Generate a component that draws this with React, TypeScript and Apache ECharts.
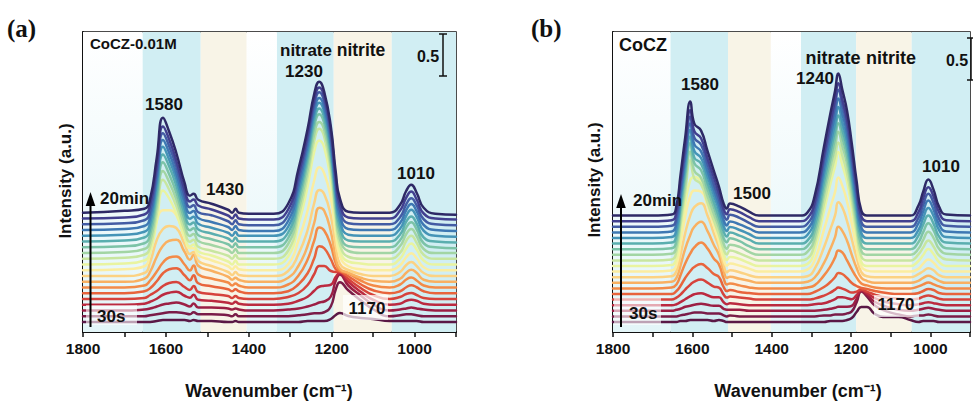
import React, { useEffect, useRef } from "react";
import * as echarts from "echarts";

const FONT = 'Arial, "Liberation Sans", Helvetica, sans-serif';

// Intensity unit: 1/84 a.u. (the "0.5" scale bar = 42 units)
const SCALE_BAR = 42;

// ---------- Panel (a): CoCZ-0.01M ----------
const WAVENUMBERS_A = [1800, 1700, 1652, 1638, 1622, 1607, 1592, 1575, 1555, 1542, 1533, 1522, 1490, 1450, 1440, 1432, 1424, 1400, 1340, 1305, 1280, 1258, 1242, 1230, 1218, 1202, 1190, 1180, 1160, 1130, 1100, 1060, 1035, 1020, 1008, 995, 978, 950, 900];
// rows listed from 20 min (top) down to 30 s (bottom), intensity above each trace's own baseline
const CURVES_A = [
  [0, 2, 4, 14, 55, 95, 81, 60, 30, 17, 19, 13, 9, 3, 0, 4, 0, -1, -1, 9, 44, 84, 119, 131, 121, 86, 40, 14, 1, 0, 0, 0, 8, 22, 28, 20, 5, -1, -2],
  [0, 1, 4, 14, 53, 92, 79, 58, 29, 17, 19, 13, 9, 3, 0, 4, 0, -1, -1, 9, 44, 84, 119, 131, 122, 87, 40, 14, 1, 0, 0, 0, 8, 21, 27, 19, 5, 0, -1],
  [0, 1, 4, 13, 53, 91, 78, 58, 29, 17, 19, 12, 9, 3, 0, 4, 0, -1, -1, 9, 44, 85, 120, 132, 123, 88, 41, 14, 1, 0, 0, 0, 7, 20, 26, 19, 5, 0, -1],
  [0, 1, 4, 13, 52, 90, 77, 57, 29, 17, 19, 12, 8, 3, 0, 4, 0, -1, -1, 9, 44, 85, 120, 132, 123, 88, 41, 14, 1, 0, 0, 0, 7, 20, 26, 19, 5, 0, -1],
  [0, 1, 4, 13, 52, 89, 76, 57, 28, 17, 19, 12, 8, 3, 0, 4, 0, 0, 0, 9, 44, 85, 121, 133, 124, 89, 41, 14, 1, 0, 0, 0, 7, 20, 26, 19, 5, 0, -1],
  [0, 1, 4, 13, 50, 87, 75, 56, 28, 17, 19, 12, 8, 3, 0, 4, 0, 0, 0, 9, 44, 85, 121, 133, 124, 89, 41, 14, 1, 0, 0, 0, 7, 20, 25, 18, 4, 0, -1],
  [0, 1, 4, 13, 49, 85, 73, 55, 28, 17, 19, 12, 8, 3, 0, 4, 0, 0, 0, 9, 44, 85, 121, 133, 124, 89, 41, 14, 1, 0, 0, 0, 7, 20, 25, 18, 4, 0, -1],
  [0, 1, 4, 12, 47, 82, 71, 54, 28, 17, 19, 12, 8, 3, 0, 4, 0, 0, 0, 9, 43, 83, 119, 131, 123, 88, 40, 14, 2, 0, 0, 0, 7, 19, 24, 17, 4, 0, 0],
  [0, 1, 4, 12, 45, 79, 69, 53, 28, 17, 19, 12, 8, 3, 0, 4, 0, 0, 0, 8, 42, 82, 118, 130, 122, 87, 40, 14, 2, 0, 0, 0, 6, 18, 23, 16, 4, 0, 0],
  [0, 1, 4, 12, 43, 74, 66, 51, 28, 18, 20, 13, 9, 3, 0, 4, 0, 0, 0, 8, 40, 78, 113, 124, 117, 83, 39, 14, 3, 1, 0, 0, 6, 16, 21, 15, 4, 0, 0],
  [0, 1, 4, 20, 50, 60, 60, 55, 33, 22, 22, 15, 10, 4, 1, 4, 1, 0, 0, 6, 30, 60, 90, 103, 97, 72, 36, 14, 4, 1, 0, 0, 5, 13, 17, 12, 3, 0, 0],
  [0, 0, 3, 14, 36, 47, 50, 48, 32, 22, 24, 15, 10, 4, 1, 4, 1, 0, 0, 5, 22, 46, 73, 86, 82, 60, 30, 12, 6, 2, 0, 0, 4, 11, 14, 10, 3, 0, 0],
  [0, 0, 3, 10, 25, 36, 41, 42, 30, 22, 27, 16, 11, 5, 2, 4, 2, 0, 0, 4, 16, 36, 59, 74, 71, 50, 24, 13, 9, 4, 1, 0, 3, 9, 12, 9, 2, 0, 0],
  [0, 0, 2, 7, 16, 25, 30, 31, 23, 17, 22, 13, 9, 5, 2, 4, 2, 0, 0, 3, 12, 28, 47, 60, 57, 42, 24, 17, 14, 7, 2, 0, 3, 8, 10, 7, 2, 0, 0],
  [0, 0, 2, 5, 12, 20, 24, 25, 18, 13, 18, 10, 7, 4, 2, 4, 2, 0, 0, 2, 9, 20, 35, 47, 45, 34, 24, 22, 17, 9, 3, 0, 2, 6, 8, 6, 2, 0, 0],
  [0, 0, 1, 4, 8, 13, 16, 17, 12, 9, 13, 7, 5, 3, 1, 3, 1, 0, 0, 2, 6, 14, 25, 33, 33, 28, 27, 27, 20, 11, 4, 0, 2, 5, 6, 4, 1, 0, 0],
  [0, 0, 1, 3, 6, 10, 12, 13, 9, 7, 10, 5, 4, 2, 1, 3, 1, 0, 0, 1, 4, 8, 14, 18, 19, 20, 28, 32, 23, 13, 5, 0, 1, 4, 5, 4, 1, 0, 0],
  [0, 0, 1, 2, 4, 6, 7, 8, 6, 4, 7, 3, 3, 2, 1, 2, 1, 0, 0, 1, 2, 4, 6, 8, 9, 14, 30, 36, 25, 15, 6, 0, 1, 2, 3, 2, 1, 0, 0],
  [0, 0, 0, 1, 2, 3, 4, 4, 3, 2, 4, 2, 2, 1, 0, 2, 0, 0, 0, 0, 1, 2, 3, 3, 4, 10, 27, 34, 26, 16, 7, 0, 1, 2, 2, 1, 0, 0, 0],
  [0, 0, 0, 0, 1, 2, 2, 2, 2, 1, 2, 1, 1, 0, 0, 1, 0, 0, 0, 0, 0, 1, 1, 1, 1, 3, 7, 9, 6, 4, 3, 1, 1, 1, 1, 1, 0, 0, 0],
];
// background bands [from, to, kind] kind: 0 clear, 1 cyan, 2 cream
const BANDS_A = [[1800, 1656, 0], [1656, 1516, 1], [1516, 1405, 2], [1405, 1332, 0], [1332, 1195, 1], [1195, 1055, 2], [1055, 900, 1]];

// ---------- Panel (b): CoCZ ----------
const WAVENUMBERS_B = [1800, 1700, 1652, 1640, 1630, 1618, 1605, 1595, 1578, 1562, 1546, 1533, 1521, 1513, 1505, 1481, 1457, 1432, 1330, 1310, 1292, 1268, 1252, 1240, 1232, 1222, 1210, 1198, 1186, 1174, 1160, 1140, 1110, 1080, 1050, 1030, 1018, 1005, 992, 978, 960, 900];
const CURVES_B = [
  [0, 0, 1, 10, 40, 78, 114, 92, 85, 65, 45, 29, 12, 7, 12, 9, 4, 0, 0, 3, 19, 69, 102, 125, 142, 126, 105, 72, 35, 5, 0, 0, 0, 0, 0, 10, 24, 36, 26, 9, 1, 0],
  [0, 0, 1, 10, 39, 76, 111, 90, 83, 63, 44, 28, 12, 7, 12, 9, 4, 0, 0, 3, 18, 67, 99, 122, 138, 122, 102, 70, 34, 5, 0, 0, 0, 0, 0, 9, 23, 34, 25, 9, 1, 0],
  [0, 0, 1, 10, 39, 75, 110, 89, 82, 63, 43, 28, 12, 7, 12, 9, 4, 0, 0, 3, 18, 67, 98, 121, 137, 122, 101, 69, 34, 5, 0, 0, 0, 0, 0, 9, 22, 33, 24, 8, 1, 0],
  [0, 0, 1, 10, 38, 75, 109, 88, 81, 62, 43, 28, 12, 7, 11, 8, 4, 0, 0, 3, 18, 65, 96, 118, 134, 119, 99, 68, 33, 5, 0, 0, 0, 0, 0, 9, 21, 32, 23, 8, 1, 0],
  [0, 0, 1, 9, 38, 74, 108, 87, 80, 62, 43, 28, 12, 7, 11, 8, 4, 0, 0, 3, 18, 64, 94, 115, 131, 116, 97, 66, 32, 5, 0, 0, 0, 0, 0, 8, 20, 30, 22, 8, 1, 0],
  [0, 0, 1, 9, 38, 73, 107, 86, 80, 61, 42, 27, 12, 7, 11, 8, 4, 0, 0, 3, 17, 62, 92, 113, 128, 114, 95, 65, 32, 5, 0, 0, 0, 0, 0, 8, 19, 28, 20, 7, 1, 0],
  [0, 0, 1, 9, 37, 73, 106, 86, 79, 60, 42, 27, 11, 7, 11, 8, 3, 0, 0, 3, 17, 61, 90, 111, 126, 112, 93, 64, 31, 4, 0, 0, 0, 0, 0, 7, 17, 26, 19, 7, 1, 0],
  [0, 0, 1, 9, 36, 70, 103, 84, 77, 59, 41, 27, 11, 6, 10, 8, 3, 0, 0, 3, 16, 60, 88, 108, 123, 109, 91, 62, 30, 4, 0, 0, 0, 0, 0, 6, 15, 23, 17, 6, 1, 0],
  [0, 0, 1, 9, 35, 68, 100, 82, 76, 58, 40, 26, 11, 6, 10, 7, 3, 0, 0, 2, 16, 57, 85, 104, 118, 105, 87, 60, 29, 4, 0, 0, 0, 0, 0, 6, 13, 20, 14, 5, 1, 0],
  [0, 0, 1, 8, 32, 62, 86, 89, 84, 68, 48, 30, 12, 6, 9, 7, 3, 0, 0, 2, 15, 55, 82, 100, 114, 101, 84, 58, 28, 4, 0, 0, 0, 0, 0, 5, 11, 17, 12, 4, 0, 0],
  [0, 0, 1, 7, 28, 55, 76, 81, 80, 66, 46, 30, 12, 6, 8, 6, 3, 0, 0, 2, 11, 42, 64, 80, 94, 86, 70, 48, 24, 5, 1, 0, 0, 0, 0, 3, 8, 12, 9, 3, 0, 0],
  [0, 0, 1, 6, 22, 44, 62, 70, 74, 62, 44, 30, 12, 5, 7, 5, 2, 0, 0, 1, 8, 30, 48, 62, 75, 70, 56, 38, 20, 5, 1, 0, 0, 0, 0, 3, 6, 9, 7, 2, 0, 0],
  [0, 0, 1, 5, 17, 34, 48, 56, 61, 52, 38, 28, 12, 5, 6, 4, 2, 0, 0, 1, 5, 20, 34, 46, 56, 52, 42, 28, 15, 5, 2, 0, 0, 0, 0, 2, 5, 7, 5, 2, 0, 0],
  [0, 0, 1, 4, 13, 25, 35, 41, 46, 40, 30, 24, 10, 4, 5, 3, 1, 0, 0, 1, 3, 13, 22, 31, 38, 36, 28, 19, 11, 5, 3, 1, 0, 0, 0, 2, 4, 6, 4, 2, 0, 0],
  [0, 0, 0, 3, 8, 16, 23, 27, 30, 26, 20, 17, 7, 3, 4, 2, 1, 0, 0, 0, 2, 7, 12, 17, 21, 20, 16, 11, 8, 6, 5, 3, 1, 0, 0, 1, 3, 5, 4, 1, 0, 0],
  [0, 0, 0, 2, 5, 10, 15, 18, 20, 17, 13, 12, 5, 2, 3, 2, 1, 0, 0, 0, 1, 4, 7, 10, 12, 11, 9, 7, 8, 10, 8, 5, 2, 1, 0, 1, 3, 4, 3, 1, 0, 0],
  [0, 0, 0, 1, 3, 6, 9, 11, 12, 10, 8, 8, 3, 1, 2, 1, 0, 0, 0, 0, 1, 2, 4, 6, 8, 8, 7, 6, 10, 15, 12, 7, 3, 1, 0, 1, 2, 3, 2, 1, 0, 0],
  [0, 0, 0, 1, 2, 4, 5, 6, 7, 6, 5, 5, 2, 1, 1, 1, 0, 0, 0, 0, 0, 1, 2, 3, 4, 4, 4, 5, 12, 20, 16, 9, 4, 1, 0, 1, 2, 3, 2, 1, 0, 0],
  [0, 0, 0, 0, 1, 2, 3, 4, 4, 3, 3, 3, 1, 0, 1, 0, 0, 0, 0, 0, 0, 1, 1, 2, 2, 2, 3, 5, 14, 25, 20, 11, 5, 2, 0, 1, 1, 2, 1, 0, 0, 0],
  [0, 0, 0, 0, 1, 1, 2, 2, 2, 2, 1, 2, 1, 0, 0, 0, 0, 0, 0, 0, 0, 0, 1, 1, 1, 1, 2, 4, 10, 15, 15, 8, 5, 5, 2, 0, 1, 1, 1, 0, 0, 0],
];
const BANDS_B = [[1800, 1655, 0], [1655, 1510, 1], [1510, 1402, 2], [1402, 1326, 0], [1326, 1187, 1], [1187, 1047, 2], [1047, 900, 1]];

const X_MIN = 900;
const X_MAX = 1800;
const TIME_FIRST = "30s";
const TIME_LAST = "20min";

// colours from 30 s (bottom) to 20 min (top)
const COLORS = ["#5a1846", "#7a1c48", "#9b1f44", "#bb2a40", "#d6433c", "#e8643c", "#f38b48", "#f9b061", "#fcd282", "#fbeda0", "#e9f4a0", "#c8e6a0", "#a2d5a4", "#7cc3a7", "#5aaeaf", "#4594b7", "#3e78b3", "#435ca4", "#423f8f", "#2e2966"];

function buildLines(gridIdx: number, W: number[], rowsTopDown: number[][], base: number, step: number) {
  const n = rowsTopDown.length;
  const out: any[] = [];
  for (let i = 0; i < n; i++) {
    const row = rowsTopDown[n - 1 - i];
    out.push({
      type: "line",
      xAxisIndex: gridIdx,
      yAxisIndex: gridIdx,
      data: W.map((w, j) => [w, base + i * step + row[j]]),
      showSymbol: false,
      smooth: 0.5,
      lineStyle: { width: 2.5, color: COLORS[i], cap: "round", join: "round" },
      itemStyle: { color: COLORS[i] },
      z: 3,
      silent: true,
    });
  }
  return out;
}

function bandSeries(gridIdx: number, bands: number[][]) {
  const clear = new echarts.graphic.LinearGradient(0, 0, 0, 1, [
    { offset: 0, color: "#ffffff" },
    { offset: 1, color: "#e3f5f8" },
  ]);
  const fills: any[] = [clear, "#d1eef3", "#f8f4e7"];
  return {
    type: "custom",
    xAxisIndex: gridIdx,
    yAxisIndex: gridIdx,
    data: bands,
    encode: { x: [0, 1] },
    z: 1,
    silent: true,
    renderItem: (params: any, api: any) => {
      const a = api.coord([api.value(0), 0])[0];
      const b = api.coord([api.value(1), 0])[0];
      const cs = params.coordSys;
      return {
        type: "rect",
        shape: { x: Math.min(a, b), y: cs.y, width: Math.abs(b - a), height: cs.height },
        style: { fill: fills[api.value(2)] },
      };
    },
  };
}

function txt(x: number, y: number, text: string, size: number, align = "center", extra: any = {}) {
  return {
    type: "text",
    x,
    y,
    z: 100,
    ...extra,
    style: {
      text,
      fill: "#111",
      font: `bold ${size}px ${FONT}`,
      align,
      verticalAlign: "middle",
      textAlign: align,
      textVerticalAlign: "middle",
      ...(extra.style || {}),
    },
  };
}

function box(x: number, y: number, w: number, h: number, op: number) {
  return { type: "rect", z: 60, shape: { x, y, width: w, height: h }, style: { fill: `rgba(255,255,255,${op})` } };
}

function scaleBar(x: number, y1: number, y2: number) {
  const s = { stroke: "#111", lineWidth: 1.5 };
  return [
    { type: "line", z: 100, shape: { x1: x, y1, x2: x, y2 }, style: s },
    { type: "line", z: 100, shape: { x1: x - 4, y1, x2: x + 4, y2: y1 }, style: s },
    { type: "line", z: 100, shape: { x1: x - 4, y1: y2, x2: x + 4, y2 }, style: s },
  ];
}

function arrow(x: number, yBottom: number, yTip: number) {
  return [
    { type: "line", z: 100, shape: { x1: x, y1: yBottom, x2: x, y2: yTip + 12 }, style: { stroke: "#000", lineWidth: 2 } },
    { type: "polygon", z: 100, shape: { points: [[x, yTip], [x - 4.8, yTip + 14], [x + 4.8, yTip + 14]] }, style: { fill: "#000" } },
  ];
}

export default function App() {
  const ref = useRef<HTMLDivElement>(null);
  useEffect(() => {
    if (!ref.current) return;
    const chart = echarts.init(ref.current, undefined, { renderer: "svg" });
    const xAxis = (gridIndex: number) => ({
      type: "value",
      gridIndex,
      inverse: true,
      min: X_MIN,
      max: X_MAX,
      interval: 100,
      axisLine: { show: true, onZero: false, lineStyle: { color: "#111", width: 2 } },
      axisTick: { show: true, length: 5, lineStyle: { color: "#111", width: 1.5 } },
      axisLabel: {
        formatter: (v: number) => (v % 200 === 0 ? String(v) : ""),
        fontSize: 15.5,
        fontWeight: "bold",
        fontFamily: FONT,
        color: "#111",
        margin: 8,
      },
      splitLine: { show: false },
    });
    const yAxis = (gridIndex: number) => ({
      type: "value",
      gridIndex,
      min: 0,
      max: 300,
      axisLine: { show: true, lineStyle: { color: "#111", width: 2 } },
      axisTick: { show: false },
      axisLabel: { show: false },
      splitLine: { show: false },
    });
    const option: any = {
      animation: false,
      backgroundColor: "#ffffff",
      grid: [
        { left: 83, right: 517, top: 32, bottom: 71, show: true, borderColor: "#111", borderWidth: 1.5, backgroundColor: "transparent" },
        { left: 613, right: -7, top: 32, bottom: 71, show: true, borderColor: "#111", borderWidth: 1.5, backgroundColor: "transparent" },
      ],
      xAxis: [xAxis(0), xAxis(1)],
      yAxis: [yAxis(0), yAxis(1)],
      series: [
        bandSeries(0, BANDS_A),
        bandSeries(1, BANDS_B),
        ...buildLines(0, WAVENUMBERS_A, CURVES_A, 10, 5.75),
        ...buildLines(1, WAVENUMBERS_B, CURVES_B, 10, 5.6),
      ],
      graphic: [
        // panel (a)
        txt(7, 28, "(a)", 25, "left", { style: { font: 'bold 25px "Liberation Serif", "Times New Roman", serif' } }),
        txt(90, 43, "CoCZ-0.01M", 15, "left"),
        txt(164, 104, "1580", 17),
        txt(225, 189, "1430", 17),
        txt(306, 50, "nitrate", 17),
        txt(361, 50, "nitrite", 17.5),
        txt(304, 71, "1230", 17),
        txt(428, 56, "0.5", 16),
        ...scaleBar(443, 34, 76),
        txt(416, 173, "1010", 17),
        box(86, 305, 51, 20, 0.6),
        box(343, 295, 45, 25, 0.7),
        txt(367, 308, "1170", 17),
        ...arrow(90.5, 327, 192),
        txt(100, 198, TIME_LAST, 17, "left"),
        txt(97, 316, TIME_FIRST, 17, "left"),
        txt(65, 181, "Intensity (a.u.)", 17, "center", { rotation: Math.PI / 2 }),
        txt(269, 391, "Wavenumber (cm\u207B\u00B9)", 18),
        // panel (b)
        txt(531, 28, "(b)", 25, "left", { style: { font: 'bold 25px "Liberation Serif", "Times New Roman", serif' } }),
        txt(619, 45, "CoCZ", 18, "left"),
        txt(700, 84, "1580", 17),
        txt(752, 193, "1500", 17),
        txt(833, 58, "nitrate", 18),
        txt(891, 58, "nitrite", 18),
        txt(815, 78, "1240", 17),
        txt(957, 60, "0.5", 16),
        ...scaleBar(971, 38, 80),
        txt(941, 166, "1010", 17),
        box(614, 298, 47, 27, 0.6),
        box(874, 295, 45, 22, 0.7),
        txt(896, 304, "1170", 17),
        ...arrow(621, 327, 194),
        txt(633, 200, TIME_LAST, 17, "left"),
        txt(629, 313, TIME_FIRST, 17, "left"),
        txt(594, 180, "Intensity (a.u.)", 17, "center", { rotation: Math.PI / 2 }),
        txt(798, 391, "Wavenumber (cm\u207B\u00B9)", 18),
      ],
    };
    chart.setOption(option);
    return () => chart.dispose();
  }, []);
  return <div ref={ref} style={{ position: "fixed", left: 0, top: 0, width: 973, height: 403 }} />;
}
